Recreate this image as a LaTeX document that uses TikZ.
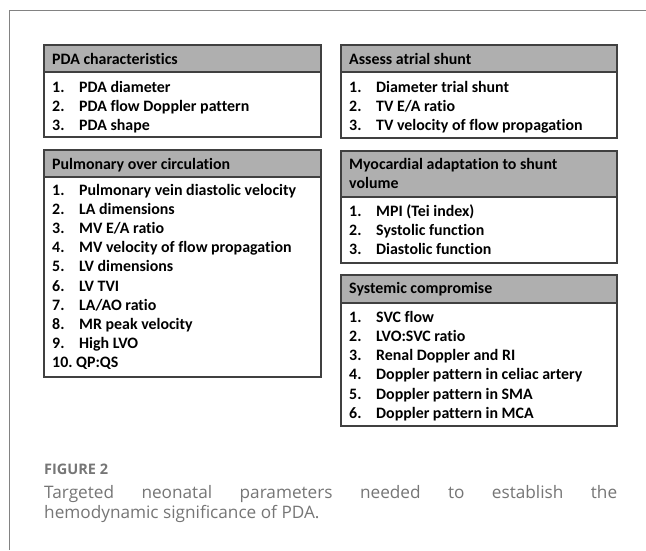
\documentclass[tikz,border=0pt]{standalone}
\usepackage{fontspec}
\setmainfont{Carlito}[RawFeature=-liga]
\newfontfamily\capfont{Open Sans}
\definecolor{hdrgray}{RGB}{175,175,175}
\definecolor{boxline}{RGB}{64,64,64}
\definecolor{framegray}{RGB}{130,130,130}
\definecolor{capgray}{RGB}{118,118,118}
\begin{document}
\begin{tikzpicture}[x=1pt,y=-1pt,
  boxfont/.style={font=\fontsize{15.9}{18}\selectfont\bfseries, inner sep=0pt, anchor=base west},
  hdr/.style={fill=hdrgray, draw=boxline, line width=1.2pt},
  boxframe/.style={draw=boxline, line width=1.2pt},
  capstyle/.style={font=\capfont\fontsize{17.2}{20}\selectfont, text=capgray, inner sep=0pt, anchor=base west}]
\useasboundingbox (0,0) rectangle (646,550);
\fill[white] (0,0) rectangle (646,550);
% outer frame (top and left rules)
\draw[framegray, line width=1pt] (9.5,550) -- (9.5,10.5) -- (646,10.5);

% ---- Box 1: PDA characteristics
\filldraw[hdr] (44,45) rectangle (321,72);
\draw[boxframe] (44,45) rectangle (321,137);
\node[boxfont] (h1) at (52,64.5) {PDA characteristics};
\node[boxfont] (a1n) at (52,92) {1.};  \node[boxfont] (a1) at (79,92) {PDA diameter};
\node[boxfont] (a2n) at (52,111) {2.}; \node[boxfont] (a2) at (79,111) {PDA flow Doppler pattern};
\node[boxfont] (a3n) at (52,130) {3.}; \node[boxfont] (a3) at (79,130) {PDA shape};

% ---- Box 2: Assess atrial shunt
\filldraw[hdr] (341,45) rectangle (617,72);
\draw[boxframe] (341,45) rectangle (617,138);
\node[boxfont] (h2) at (349,64.5) {Assess atrial shunt};
\node[boxfont] (b1n) at (349,92) {1.};  \node[boxfont] (b1) at (376,92) {Diameter trial shunt};
\node[boxfont] (b2n) at (349,111) {2.}; \node[boxfont] (b2) at (376,111) {TV E/A ratio};
\node[boxfont] (b3n) at (349,130) {3.}; \node[boxfont] (b3) at (376,130) {TV velocity of flow propagation};

% ---- Box 3: Pulmonary over circulation
\filldraw[hdr] (44,150) rectangle (321,177);
\draw[boxframe] (44,150) rectangle (321,377);
\node[boxfont] (h3) at (52,169.5) {Pulmonary over circulation};
\node[boxfont] (c1n) at (52,195.5) {1.}; \node[boxfont] (c1) at (79,195.5) {Pulmonary vein diastolic velocity};
\node[boxfont] (c2n) at (52,214.6) {2.}; \node[boxfont] (c2) at (79,214.6) {LA dimensions};
\node[boxfont] (c3n) at (52,233.7) {3.}; \node[boxfont] (c3) at (79,233.7) {MV E/A ratio};
\node[boxfont] (c4n) at (52,252.8) {4.}; \node[boxfont] (c4) at (79,252.8) {MV velocity of flow propagation};
\node[boxfont] (c5n) at (52,271.9) {5.}; \node[boxfont] (c5) at (79,271.9) {LV dimensions};
\node[boxfont] (c6n) at (52,291.0) {6.}; \node[boxfont] (c6) at (79,291.0) {LV TVI};
\node[boxfont] (c7n) at (52,310.1) {7.}; \node[boxfont] (c7) at (79,310.1) {LA/AO ratio};
\node[boxfont] (c8n) at (52,329.2) {8.}; \node[boxfont] (c8) at (79,329.2) {MR peak velocity};
\node[boxfont] (c9n) at (52,348.3) {9.}; \node[boxfont] (c9) at (79,348.3) {High LVO};
\node[boxfont] (c10) at (52,367.4) {10.\ QP:QS};

% ---- Box 4: Myocardial adaptation to shunt volume
\filldraw[hdr] (341,151) rectangle (617,197);
\draw[boxframe] (341,151) rectangle (617,263);
\node[boxfont] (h4a) at (349,169.5) {Myocardial adaptation to shunt};
\node[boxfont] (h4b) at (349,188.5) {volume};
\node[boxfont] (d1n) at (349,216) {1.}; \node[boxfont] (d1) at (376,216) {MPI (Tei index)};
\node[boxfont] (d2n) at (349,235) {2.}; \node[boxfont] (d2) at (376,235) {Systolic function};
\node[boxfont] (d3n) at (349,254) {3.}; \node[boxfont] (d3) at (376,254) {Diastolic function};

% ---- Box 5: Systemic compromise
\filldraw[hdr] (341,275) rectangle (617,303);
\draw[boxframe] (341,275) rectangle (617,426);
\node[boxfont] (h5) at (349,293.5) {Systemic compromise};
\node[boxfont] (e1n) at (349,322.0) {1.}; \node[boxfont] (e1) at (376,322.0) {SVC flow};
\node[boxfont] (e2n) at (349,341.3) {2.}; \node[boxfont] (e2) at (376,341.3) {LVO:SVC ratio};
\node[boxfont] (e3n) at (349,360.6) {3.}; \node[boxfont] (e3) at (376,360.6) {Renal Doppler and RI};
\node[boxfont] (e4n) at (349,379.9) {4.}; \node[boxfont] (e4) at (376,379.9) {Doppler pattern in celiac artery};
\node[boxfont] (e5n) at (349,399.2) {5.}; \node[boxfont] (e5) at (376,399.2) {Doppler pattern in SMA};
\node[boxfont] (e6n) at (349,418.5) {6.}; \node[boxfont] (e6) at (376,418.5) {Doppler pattern in MCA};

% ---- Caption
\node[capstyle, font=\capfont\fontsize{14.5}{18}\selectfont\bfseries] (fig) at (44,474.5) {FIGURE 2};
\node[capstyle] (cap1) at (44,498) {\makebox[573pt][s]{Targeted neonatal parameters needed to establish the}};
\node[capstyle] (cap2) at (44,518.5) {hemodynamic significance of PDA.};
\end{tikzpicture}
\end{document}
